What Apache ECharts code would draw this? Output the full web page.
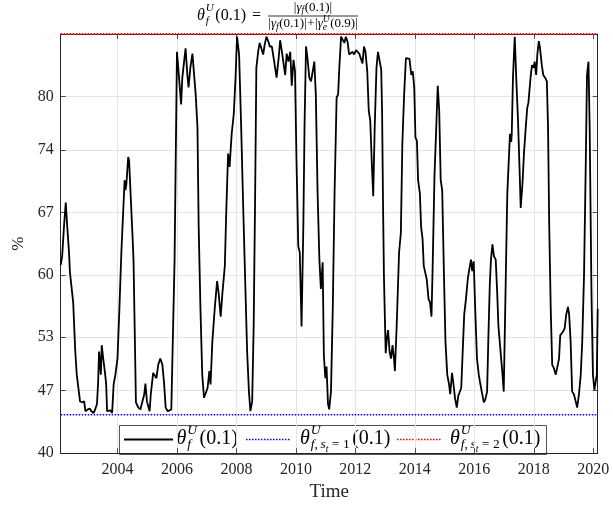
<!DOCTYPE html>
<html><head><meta charset="utf-8">
<script src="https://cdn.jsdelivr.net/npm/echarts@6/dist/echarts.min.js"></script>
<style>html,body{margin:0;padding:0;background:#fff;overflow:hidden}#c{width:613px;height:507px}</style>
</head><body><div id="c"></div>
<script>
// ---- data (decimal years, %) ----
const years = [
2002.09,2002.14,2002.20,2002.26,2002.31,2002.37,2002.40,2002.45,2002.51,2002.58,2002.63,2002.70,2002.74,2002.81,2002.88,2002.92,
2003.00,2003.07,2003.12,2003.19,2003.24,2003.31,2003.35,2003.38,2003.42,2003.44,2003.47,2003.52,2003.58,2003.62,2003.65,2003.71,2003.76,2003.82,2003.87,2003.93,
2004.00,2004.06,2004.13,2004.20,2004.24,2004.27,2004.30,2004.36,2004.39,2004.45,2004.51,2004.54,2004.62,2004.70,2004.77,2004.83,2004.90,2004.94,2004.99,
2005.03,2005.08,2005.12,2005.20,2005.26,2005.31,2005.37,2005.44,2005.51,2005.57,2005.62,2005.69,2005.75,2005.81,2005.87,2005.92,
2006.00,2006.07,2006.14,2006.18,2006.24,2006.29,2006.35,2006.39,2006.45,2006.52,2006.56,2006.63,2006.69,2006.73,2006.79,2006.85,2006.91,2006.97,
2007.03,2007.09,2007.13,2007.19,2007.27,2007.35,2007.40,2007.47,2007.53,2007.61,2007.66,2007.72,2007.77,2007.84,2007.91,2007.97,
2008.02,2008.09,2008.16,2008.23,2008.29,2008.36,2008.42,2008.47,2008.53,2008.58,2008.63,2008.67,2008.73,2008.78,2008.82,2008.90,2008.95,
2009.01,2009.08,2009.12,2009.19,2009.27,2009.35,2009.42,2009.47,2009.53,2009.58,2009.64,2009.69,2009.75,2009.81,2009.86,2009.92,2009.97,
2010.02,2010.08,2010.13,2010.19,2010.25,2010.29,2010.34,2010.39,2010.45,2010.51,2010.56,2010.62,2010.67,2010.73,2010.79,2010.84,2010.90,2010.94,2010.99,
2011.03,2011.08,2011.12,2011.18,2011.24,2011.30,2011.37,2011.42,2011.46,2011.52,2011.57,2011.63,2011.68,2011.74,2011.79,2011.85,2011.90,2011.96,
2012.02,2012.07,2012.13,2012.19,2012.24,2012.29,2012.34,2012.40,2012.45,2012.50,2012.55,2012.60,2012.65,2012.71,2012.76,2012.82,2012.87,2012.90,2012.93,2012.96,2012.99,
2013.02,2013.06,2013.10,2013.15,2013.20,2013.25,2013.30,2013.33,2013.39,2013.47,2013.53,2013.58,2013.64,2013.70,2013.75,2013.82,2013.88,2013.93,2013.98,
2014.02,2014.07,2014.11,2014.17,2014.21,2014.26,2014.30,2014.36,2014.40,2014.46,2014.51,2014.56,2014.60,2014.66,2014.72,2014.77,2014.82,2014.87,2014.92,2014.98,
2015.03,2015.09,2015.15,2015.19,2015.25,2015.30,2015.35,2015.41,2015.46,2015.52,2015.56,2015.61,2015.66,2015.72,2015.78,2015.83,2015.89,2015.93,2015.98,
2016.03,2016.09,2016.15,2016.19,2016.25,2016.32,2016.37,2016.43,2016.47,2016.52,2016.56,2016.61,2016.66,2016.72,2016.77,2016.81,2016.86,2016.91,2016.94,2016.99,
2017.02,2017.06,2017.11,2017.17,2017.20,2017.24,2017.26,2017.30,2017.36,2017.41,2017.47,2017.53,2017.56,2017.62,2017.67,2017.73,2017.78,2017.82,2017.85,2017.90,2017.94,2017.99,
2018.03,2018.08,2018.12,2018.17,2018.21,2018.27,2018.32,2018.38,2018.44,2018.48,2018.52,2018.57,2018.62,2018.68,2018.74,2018.79,2018.85,2018.89,2018.94,2018.98,
2019.04,2019.09,2019.15,2019.19,2019.24,2019.29,2019.35,2019.41,2019.46,2019.52,2019.58,2019.63,2019.69,2019.75,2019.79,2019.84,2019.88,2019.94,2019.99,
2020.04,2020.08,2020.12,2020.15
];
const thetaF = [
61.1,62.1,65.4,68.1,65.4,62.5,60.3,60.4,56.9,51.4,48.8,46.9,45.8,45.7,45.8,44.7,
44.9,45.0,44.7,44.5,44.8,45.5,48.0,51.4,51.2,48.8,52.1,50.6,49.0,47.7,44.7,44.9,44.8,44.5,47.7,48.8,
50.6,55.8,62.5,67.7,70.6,69.5,70.2,73.2,72.8,68.4,64.0,61.5,45.7,45.1,44.9,45.1,46.6,47.8,45.8,
45.7,44.7,46.6,49.0,48.8,48.4,49.9,50.6,49.9,47.7,45.1,44.7,44.9,44.9,44.7,61.7,
85.0,82.1,79.1,82.1,83.9,85.4,82.4,81.0,83.2,84.8,84.7,80.2,76.5,65.4,56.2,48.8,46.2,46.0,
47.3,49.2,47.7,52.5,56.2,59.3,58.0,55.3,58.0,61.0,67.3,73.6,72.1,75.8,78.0,82.1,
86.7,84.7,76.5,67.3,59.9,51.4,46.9,44.7,45.8,54.3,69.1,83.2,85.0,86.0,85.6,84.7,85.8,
86.7,86.1,85.6,85.6,83.9,82.1,84.3,86.3,85.0,85.2,82.4,84.8,83.9,85.0,81.2,84.1,82.8,
72.8,63.2,62.5,54.2,65.4,76.5,85.6,84.3,82.1,81.7,81.9,83.9,80.2,69.1,61.7,58.4,61.4,51.0,48.4,
49.7,45.5,44.9,46.9,56.2,69.1,79.9,80.2,83.2,86.7,86.6,86.0,86.7,86.1,84.7,84.5,85.0,84.7,
85.2,85.0,84.8,84.7,83.7,85.6,85.0,82.8,78.4,77.3,72.8,68.8,76.5,83.2,85.0,83.9,83.0,78.0,68.0,60.0,55.5,
51.2,52.9,53.8,51.4,50.6,52.1,50.6,49.2,54.3,62.5,64.7,74.7,80.2,84.3,84.1,84.2,82.4,82.8,81.0,
75.4,75.0,70.6,69.1,65.4,64.0,61.0,61.0,59.5,57.3,56.9,55.3,61.0,71.0,76.5,81.2,78.4,70.6,69.5,59.9,
52.5,48.8,47.7,46.6,49.0,47.7,46.2,45.1,46.4,46.6,47.3,51.4,55.5,57.3,59.5,60.6,61.7,60.4,61.5,
56.2,50.6,48.8,48.0,46.9,45.7,46.0,46.9,52.5,58.8,61.7,63.4,62.1,61.7,58.0,54.3,54.2,50.3,49.2,46.9,
52.5,59.9,69.1,73.6,75.8,74.9,75.8,82.1,86.7,82.1,77.3,71.0,67.5,70.2,73.6,76.5,78.7,79.3,79.3,82.4,83.5,83.2,
83.9,82.4,84.7,86.2,85.4,83.5,82.4,82.1,81.7,76.5,65.4,56.2,49.9,49.5,48.8,48.6,50.6,53.2,53.0,53.6,
54.0,55.5,56.4,55.5,52.5,46.9,46.6,45.8,45.1,46.6,48.8,52.5,59.9,72.8,82.4,83.9,76.5,58.0,48.8,
47.1,46.9,48.8,56.2
];
const regimeYears = [2002.09, 2020.15];
const thetaS1 = [44.3, 44.3];   // regime s_t = 1
const thetaS2 = [87.0, 87.0];   // regime s_t = 2
const xTicks = [2004, 2006, 2008, 2010, 2012, 2014, 2016, 2018, 2020];
const yTicks = [40, 47, 53, 60, 67, 74, 80];
const xRange = [2002.09, 2020.15];
const yRange = [40, 87];

// ---- styling ----
const FONT = '"Liberation Serif", "Times New Roman", serif';
const INK = '#262626';
const GRIDC = '#e4e4e4';

const mctx = document.createElement('canvas').getContext('2d');
function measure(t, font) { mctx.font = font; return mctx.measureText(t).width; }

// lay out a run of math-like tokens; tokens: {t,s,i,dy,pre,post} or {stack:[[...],[...]],post}
function mathRun(tokens, x0, base, align, color) {
  const els = [];
  const place = (list, xs) => {
    let w = 0;
    for (const k of list) {
      const f = (k.i ? 'italic ' : '') + k.s + 'px ' + FONT;
      const wd = measure(k.t, f);
      els.push({ type: 'text', x: xs + w + (k.pre || 0), y: base + (k.dy || 0) - 0.34 * k.s,
        style: { text: k.t, font: f, fill: color || '#000', verticalAlign: 'middle', align: 'left' } });
      w += wd + (k.pre || 0) + (k.post || 0);
    }
    return w;
  };
  let x = 0;
  for (const tok of tokens) {
    if (tok.stack) { const ws = tok.stack.map(l => place(l, x)); x += Math.max(...ws) + (tok.post || 0); }
    else x += place([tok], x);
  }
  const shift = align === 'center' ? x0 - x / 2 : x0;
  els.forEach(e => { e.x += shift; });
  return els;
}

// title
const TM = 16, TS = 11, FR = 13, FS = 9.5;
const titleEls = [].concat(
  mathRun([
    { t: 'θ', s: TM, i: true },
    { stack: [[{ t: 'U', s: TS, i: true, dy: -10, pre: 1 }], [{ t: 'f', s: TS, i: true, dy: 3.5, pre: 1 }]], post: 1.5 },
    { t: '(0.1)', s: TM },
    { t: '=', s: TM, pre: 6, post: 5 }
  ], 197, 21.5, 'left'),
  mathRun([
    { t: '|', s: FR }, { t: 'γ', s: FR, i: true }, { t: 'f', s: FS, i: true, dy: 2.5 }, { t: '(0.1)|', s: FR, pre: 0.5 }
  ], 313, 11.5, 'center'),
  mathRun([
    { t: '|', s: FR }, { t: 'γ', s: FR, i: true }, { t: 'f', s: FS, i: true, dy: 2.5 }, { t: '(0.1)|', s: FR, pre: 0.5 },
    { t: '+', s: FR, pre: 0.5, post: 0.5 },
    { t: '|', s: FR }, { t: 'γ', s: FR, i: true },
    { stack: [[{ t: 'U', s: FS, i: true, dy: -5.5 }], [{ t: 'e', s: FS, i: true, dy: 2.5 }]], post: 0.5 },
    { t: '(0.9)|', s: FR }
  ], 313, 28, 'center'),
  [{ type: 'line', shape: { x1: 268, y1: 16, x2: 358, y2: 16 }, style: { stroke: '#000', lineWidth: 0.8 } }]
);

// legend
const LM = 20, LS = 13.5, LSS = 9.5, LB = 445.5;
function legLabel(subTokens, x) {
  return mathRun([
    { t: 'θ', s: LM, i: true },
    { stack: [[{ t: 'U', s: LS, i: true, dy: -10.5, pre: 1 }], subTokens], post: 2.5 },
    { t: '(0.1)', s: LM }
  ], x, LB, 'left');
}
const regimeSub = (n) => [
  { t: 'f', s: LS, i: true, dy: 4, pre: 1 }, { t: ',', s: LS, dy: 4, post: 1.5 }, { t: 's', s: LS, i: true, dy: 4, pre: 1 },
  { t: 't', s: LSS, i: true, dy: 7 }, { t: '=', s: LS, dy: 4, pre: 3.5, post: 3.5 }, { t: String(n), s: LS, dy: 4 }
];
const legendEls = [].concat(
  [{ type: 'rect', shape: { x: 119.5, y: 425.5, width: 427, height: 29 }, style: { fill: '#fff', stroke: INK, lineWidth: 0.8 } },
   { type: 'line', shape: { x1: 124, y1: 439.5, x2: 173, y2: 439.5 }, style: { stroke: '#000', lineWidth: 1.8 } },
   { type: 'line', shape: { x1: 246, y1: 439.5, x2: 291, y2: 439.5 }, style: { stroke: '#0000ff', lineWidth: 1.4, lineDash: [1.5, 1.5] } },
   { type: 'line', shape: { x1: 397, y1: 439.5, x2: 441, y2: 439.5 }, style: { stroke: '#ff0000', lineWidth: 1.4, lineDash: [1.5, 1.5] } }],
  legLabel([{ t: 'f', s: LS, i: true, dy: 4, pre: 1 }], 176.5),
  legLabel(regimeSub(1), 300),
  legLabel(regimeSub(2), 450)
);

const chart = echarts.init(document.getElementById('c'), null, { renderer: 'canvas', width: 613, height: 507 });

const boxAxisX = (pos, main) => ({
  type: 'value', min: xRange[0], max: xRange[1], position: pos,
  axisLine: { show: true, onZero: false, lineStyle: { color: INK, width: 1 } },
  axisTick: { show: true, inside: true, length: 5, customValues: xTicks, lineStyle: { color: INK, width: 0.8 } },
  axisLabel: main ? { show: true, customValues: xTicks, formatter: v => String(Math.round(v)), fontFamily: FONT, fontSize: 16, color: INK, margin: 9 } : { show: false },
  splitLine: { show: main, lineStyle: { color: GRIDC, width: 1 } },
  name: main ? 'Time' : '', nameLocation: 'middle', nameGap: 26,
  nameTextStyle: { fontFamily: FONT, fontSize: 19, color: INK }
});
const boxAxisY = (pos, main) => ({
  type: 'value', min: yRange[0], max: yRange[1], position: pos,
  axisLine: { show: true, onZero: false, lineStyle: { color: INK, width: 1 } },
  axisTick: { show: true, inside: true, length: 5, customValues: yTicks, lineStyle: { color: INK, width: 0.8 } },
  axisLabel: main ? { show: true, customValues: yTicks, formatter: v => String(Math.round(v)), fontFamily: FONT, fontSize: 16, color: INK, margin: 7 } : { show: false },
  splitLine: { show: main, lineStyle: { color: GRIDC, width: 1 } },
  name: main ? '%' : '', nameLocation: 'middle', nameGap: 29, nameRotate: 90,
  nameTextStyle: { fontFamily: FONT, fontSize: 17, color: INK }
});

chart.setOption({
  animation: false,
  backgroundColor: '#fff',
  grid: { left: 60.7, top: 34, width: 537, height: 423.5, containLabel: false },
  xAxis: [boxAxisX('bottom', true), boxAxisX('top', false)],
  yAxis: [boxAxisY('left', true), boxAxisY('right', false)],
  series: [
    { name: 'theta_f', type: 'line', xAxisIndex: 0, yAxisIndex: 0, symbol: 'none', showSymbol: false,
      data: years.map((y, i) => [y, thetaF[i]]), lineStyle: { color: '#000', width: 1.8 }, z: 5 },
    { name: 'theta_s1', type: 'line', xAxisIndex: 0, yAxisIndex: 0, symbol: 'none', showSymbol: false,
      data: regimeYears.map((y, i) => [y, thetaS1[i]]), lineStyle: { color: '#0000ff', width: 1.4, type: [1.5, 1.5] }, z: 4 },
    { name: 'theta_s2', type: 'line', xAxisIndex: 0, yAxisIndex: 0, symbol: 'none', showSymbol: false, clip: false,
      data: regimeYears.map((y, i) => [y, thetaS2[i]]), lineStyle: { color: '#ff0000', width: 2, type: [1.5, 1.5] }, z: 10 }
  ],
  graphic: [
    { type: 'group', z: 100, children: titleEls },
    { type: 'group', z: 100, children: legendEls }
  ]
});
</script>
</body></html>
